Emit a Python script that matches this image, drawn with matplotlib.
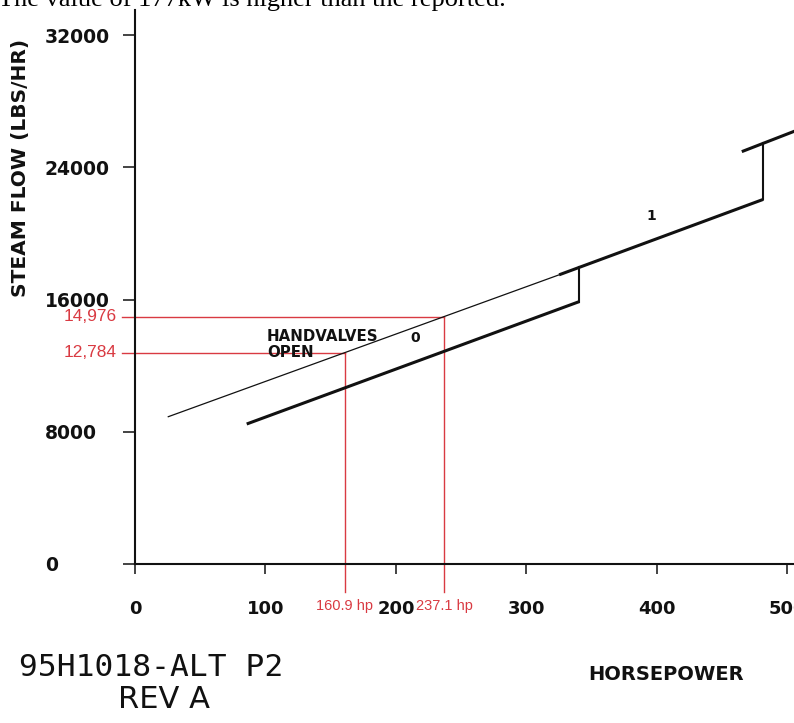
import matplotlib
matplotlib.use('Agg')
import matplotlib.pyplot as plt

# axis ticks
x_ticks = [0, 100, 200, 300, 400, 500]
y_ticks = [0, 8000, 16000, 24000, 32000]

# curves (horsepower, lbs/hr)
thin_x = [25.5, 325]
thin_y = [8908, 17500]
line0_x = [85.6, 340.5]
line0_y = [8466, 15880]
line1_x = [325, 481.5]
line1_y = [17500, 22070]
line2_x = [465, 510]
line2_y = [24960, 26340]
step_x = [340.5, 481.5]
step_lo = [15880, 22070]
step_hi = [17950, 25470]

# red markings
hp_marks = [160.9, 237.1]
hp_labels = ['160.9 hp', '237.1 hp']
flow_marks = [12784, 14976]
flow_labels = ['12,784', '14,976']

red = '#d93a42'
ink = '#111111'

fig = plt.figure(figsize=(7.94, 7.23), dpi=100)
ax = fig.add_axes([0, 0, 1, 1])
ax.set_xlim(-103.45, 505.0)
ax.set_ylim(-9641, 34143)

for side in ['top', 'right']:
    ax.spines[side].set_visible(False)
ax.spines['left'].set_position(('data', 0))
ax.spines['bottom'].set_position(('data', 0))
ax.spines['left'].set_bounds(0, 33537)
ax.spines['bottom'].set_bounds(0, 505)
ax.spines['left'].set_linewidth(1.5)
ax.spines['bottom'].set_linewidth(1.5)
ax.spines['left'].set_color(ink)
ax.spines['bottom'].set_color(ink)
ax.patch.set_visible(False)

ax.set_xticks(x_ticks)
ax.set_yticks(y_ticks)
ax.set_xticklabels([str(t) for t in x_ticks])
ax.set_yticklabels([str(t) for t in y_ticks], ha='left')
ax.tick_params(axis='x', direction='out', length=7, width=1.1, pad=19,
               labelsize=13, colors=ink)
ax.tick_params(axis='y', direction='out', length=9, width=1.1, pad=56,
               labelsize=13.5, colors=ink)
for lab in ax.get_xticklabels() + ax.get_yticklabels():
    lab.set_fontweight('bold')

# red guide lines
for hp, flow in zip(hp_marks, flow_marks):
    ax.plot([-10, hp], [flow, flow], color=red, lw=1.0)
    ax.plot([hp, hp], [-1708, flow], color=red, lw=1.0)
for hp, lab in zip(hp_marks, hp_labels):
    ax.text(hp, -2560, lab, color=red, fontsize=10.5, family='Liberation Sans',
            ha='center', va='center')
for flow, lab in zip(flow_marks, flow_labels):
    ax.text(-13.8, flow, lab, color=red, fontsize=12.5, family='Liberation Sans',
            ha='right', va='center')

# steam flow curves
ax.plot(thin_x, thin_y, color=ink, lw=0.9)
ax.plot(line0_x, line0_y, color=ink, lw=2.2, solid_capstyle='butt')
ax.plot(line1_x, line1_y, color=ink, lw=2.2, solid_capstyle='butt')
ax.plot(line2_x, line2_y, color=ink, lw=2.2, solid_capstyle='butt')
for sx, lo, hi in zip(step_x, step_lo, step_hi):
    ax.plot([sx, sx], [lo, hi], color=ink, lw=1.5)

ax.text(101, 13280, 'HANDVALVES\nOPEN', fontsize=10.8, fontweight='bold',
        ha='left', va='center', color=ink, linespacing=1.15)
ax.text(214.6, 13686, '0', fontsize=10, fontweight='bold', ha='center', va='center', color=ink)
ax.text(395.4, 21060, '1', fontsize=10, fontweight='bold', ha='center', va='center', color=ink)

fig.text(20.5 / 794, 1 - 168 / 723, 'STEAM FLOW (LBS/HR)', rotation=90,
         fontsize=14.5, fontweight='bold', ha='center', va='center', color=ink)
fig.text(666 / 794, 1 - 674 / 723, 'HORSEPOWER', fontsize=14, fontweight='bold',
         ha='center', va='center', color=ink)
fig.text(19 / 794, 1 - 668 / 723, '95H1018-ALT P2', fontsize=22.5,
         family='DejaVu Sans Mono', ha='left', va='center', color=ink)
fig.text(164 / 794, 1 - 700 / 723, 'REV A', fontsize=22,
         ha='center', va='center', color=ink)

fig.text(-0.002, 1 - 6 / 723, 'The value of 177kW is higher than the reported.',
         fontsize=19, family='Liberation Serif', ha='left', va='baseline', color='black')

fig.savefig('out.png', dpi=100)
